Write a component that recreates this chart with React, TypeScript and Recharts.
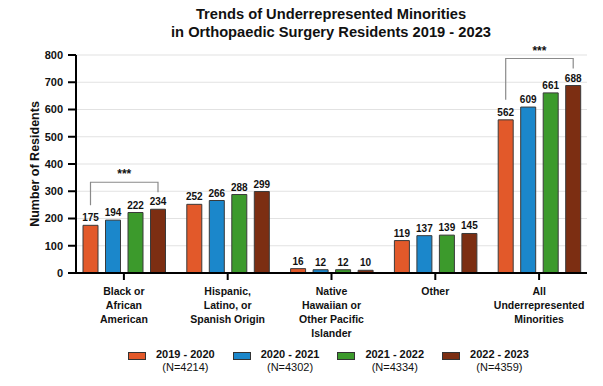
import { BarChart, Bar, XAxis, YAxis, CartesianGrid, LabelList } from 'recharts';

const CATEGORIES = [
  'Black or\nAfrican\nAmerican',
  'Hispanic,\nLatino, or\nSpanish Origin',
  'Native\nHawaiian or\nOther Pacific\nIslander',
  'Other',
  'All\nUnderrepresented\nMinorities',
];
const Y2019 = [175, 252, 16, 119, 562];
const Y2020 = [194, 266, 12, 137, 609];
const Y2021 = [222, 288, 12, 139, 661];
const Y2022 = [234, 299, 10, 145, 688];
const SIGNIF = ['***', '', '', '', '***'];
const Y_TICKS = [0, 100, 200, 300, 400, 500, 600, 700, 800];

const SERIES = [
  { key: 'y2019', name: '2019 - 2020', n: 'N=4214', color: '#e2592a' },
  { key: 'y2020', name: '2020 - 2021', n: 'N=4302', color: '#1b87cb' },
  { key: 'y2021', name: '2021 - 2022', n: 'N=4334', color: '#3c9a2c' },
  { key: 'y2022', name: '2022 - 2023', n: 'N=4359', color: '#7c2e12' },
];

const rows = CATEGORIES.map((cat, i) => ({
  cat,
  y2019: Y2019[i],
  y2020: Y2020[i],
  y2021: Y2021[i],
  y2022: Y2022[i],
}));

const FONT = '"Liberation Sans", Arial, Helvetica, sans-serif';
const BAR_SIZE = 15;
const BAR_GAP = 7.5;

function CatTick({ x, y, payload }: any) {
  const lines = String(payload.value).split('\n');
  return (
    <text x={x} y={y} textAnchor="middle" fontFamily={FONT} fontSize={10.5} fontWeight="bold" fill="#111">
      {lines.map((l, i) => (
        <tspan key={i} x={x} dy={i === 0 ? 13 : 14}>{l}</tspan>
      ))}
    </text>
  );
}

// significance bracket spanning first..last bar of a group, drawn off the last bar's geometry
function Bracket(props: any) {
  const vb = props.viewBox ?? props;
  const { x, y, width, height } = vb;
  const index = props.index;
  const mark = SIGNIF[index];
  if (!mark) return null;
  const value = Y2022[index];
  const base = y + height;
  const ppu = height / value;
  const firstTop = base - Y2019[index] * ppu;
  const x2 = x + width / 2;
  const x1 = x2 - 3 * (BAR_SIZE + BAR_GAP);
  const top = y - 27;
  return (
    <g>
      <path
        d={`M${x1},${firstTop - 20} L${x1},${top} L${x2},${top} L${x2},${y - 17}`}
        fill="none"
        stroke="#8a8a8a"
        strokeWidth={1.2}
      />
      <text x={(x1 + x2) / 2} y={top - 4} textAnchor="middle" fontFamily={FONT} fontSize={12} fontWeight="bold" fill="#111">
        {mark}
      </text>
    </g>
  );
}

export default function App() {
  return (
    <div style={{ position: 'relative', width: 603, height: 386, background: '#fff', fontFamily: FONT }}>
      <style>{'body{margin:0}'}</style>
      <div
        style={{
          position: 'absolute',
          left: 0,
          top: 5,
          width: 662,
          textAlign: 'center',
          fontSize: 14.7,
          fontWeight: 'bold',
          lineHeight: '18px',
          color: '#111',
        }}
      >
        Trends of Underrepresented Minorities
        <br />
        in Orthopaedic Surgery Residents 2019 - 2023
      </div>
      <BarChart
        width={603}
        height={386}
        data={rows}
        margin={{ top: 55, right: 16, left: 36, bottom: 83 }}
        barSize={BAR_SIZE}
        barGap={BAR_GAP}
      >
        <CartesianGrid vertical={false} stroke="#e2e2e2" strokeWidth={1.2} />
        <XAxis
          dataKey="cat"
          height={30}
          interval={0}
          padding={{ left: -4, right: -4 }}
          axisLine={{ stroke: '#000', strokeWidth: 2 }}
          tickLine={{ stroke: '#000', strokeWidth: 2 }}
          tickSize={7}
          tickMargin={2}
          tick={<CatTick />}
        />
        <YAxis
          width={40}
          domain={[0, 800]}
          ticks={Y_TICKS}
          interval={0}
          axisLine={{ stroke: '#000', strokeWidth: 2 }}
          tickLine={{ stroke: '#000', strokeWidth: 2 }}
          tickSize={8}
          tickMargin={5}
          tick={{ fontFamily: FONT, fontSize: 11, fontWeight: 'bold', fill: '#111' }}
          label={{
            value: 'Number of Residents',
            angle: -90,
            position: 'insideLeft',
            offset: -1,
            style: { fontFamily: FONT, fontSize: 12.5, fontWeight: 'bold', fill: '#111', textAnchor: 'middle' },
          }}
        />
        {SERIES.map((s, si) => (
          <Bar key={s.key} dataKey={s.key} fill={s.color} stroke="#3a3a3a" strokeWidth={1} isAnimationActive={false}>
            <LabelList
              dataKey={s.key}
              position="top"
              offset={4}
              style={{ fontFamily: FONT, fontSize: 10, fontWeight: 'bold', fill: '#111' }}
            />
            {si === 3 && <LabelList dataKey={s.key} content={<Bracket />} />}
          </Bar>
        ))}
      </BarChart>
      <div style={{ position: 'absolute', left: 128, top: 347, display: 'flex' }}>
        {SERIES.map((s) => (
          <div key={s.key} style={{ display: 'flex', alignItems: 'flex-start', width: 104.7 }}>
            <div
              style={{
                width: 16,
                height: 6,
                marginTop: 5,
                background: s.color,
                border: '0.5px solid #333',
              }}
            />
            <div style={{ marginLeft: 10, textAlign: 'center', color: '#111' }}>
              <div style={{ fontSize: 11, fontWeight: 'bold', lineHeight: '15px' }}>{s.name}</div>
              <div style={{ fontSize: 11, lineHeight: '11px' }}>({s.n})</div>
            </div>
          </div>
        ))}
      </div>
    </div>
  );
}
